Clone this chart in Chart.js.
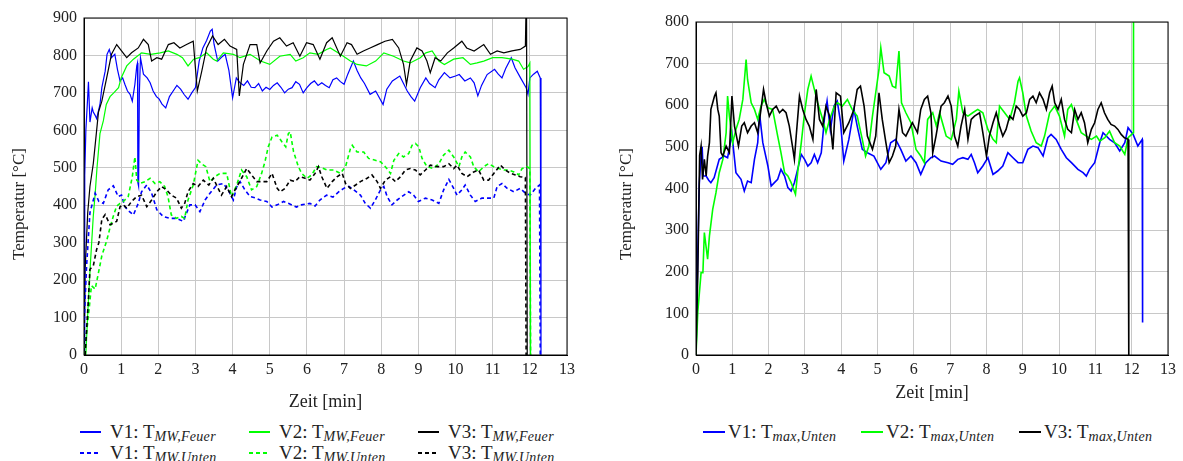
<!DOCTYPE html>
<html>
<head>
<meta charset="utf-8">
<script src="https://cdn.jsdelivr.net/npm/chart.js@4/dist/chart.umd.min.js"></script>
<style>
  body { margin: 0; width: 1183px; height: 461px; background: #fff; position: relative; overflow: hidden;
         font-family: "Liberation Serif", serif; color: #222; }
  #boxLinks { position: absolute; left: 0; top: 0; width: 590px; height: 415px; }
  #boxRechts { position: absolute; left: 600px; top: 0; width: 583px; height: 415px; }
  #boxVorlauf { position: absolute; left: -700px; top: 0; width: 300px; height: 120px; }
  .ytitel { position: absolute; width: 200px; height: 22px; line-height: 22px; text-align: center; font-size: 17px;
            transform: translate(-50%, -50%) rotate(-90deg); white-space: nowrap; }
  .leg { position: absolute; top: 421px; display: grid; }
  #legLinks { left: 80px; grid-template-columns: 169px 169px 169px; }
  #legRechts { left: 703px; grid-template-columns: 158px 158px 158px; }
  .item { display: flex; align-items: center; height: 21px; white-space: nowrap; font-size: 19px; }
  .probe { flex: none; width: 21px; height: 2px; margin-right: 9px; }
  #legRechts .probe { width: 22px; margin-right: 3px; }
  .voll { background: var(--f); }
  .strich { background: repeating-linear-gradient(90deg, var(--f) 0 4px, transparent 4px 7px); }
  sub { font-style: italic; font-size: 14px; vertical-align: -3px; line-height: 0; letter-spacing: 0.3px; }
</style>
</head>
<body>
<div id="boxVorlauf"><canvas id="vorlauf"></canvas></div>
<div id="boxLinks"><canvas id="links"></canvas></div>
<div id="boxRechts"><canvas id="rechts"></canvas></div>
<div class="ytitel" style="left:19px;top:204px">Temperatur [°C]</div>
<div class="ytitel" style="left:626px;top:204px">Temperatur [°C]</div>

<div class="leg" id="legLinks">
  <div class="item"><span class="probe voll" style="--f:#0000ff"></span><span>V1: T<sub>MW,Feuer</sub></span></div>
  <div class="item"><span class="probe voll" style="--f:#00ff00"></span><span>V2: T<sub>MW,Feuer</sub></span></div>
  <div class="item"><span class="probe voll" style="--f:#000"></span><span>V3: T<sub>MW,Feuer</sub></span></div>
  <div class="item"><span class="probe strich" style="--f:#0000ff"></span><span>V1: T<sub>MW,Unten</sub></span></div>
  <div class="item"><span class="probe strich" style="--f:#00ff00"></span><span>V2: T<sub>MW,Unten</sub></span></div>
  <div class="item"><span class="probe strich" style="--f:#000"></span><span>V3: T<sub>MW,Unten</sub></span></div>
</div>
<div class="leg" id="legRechts">
  <div class="item"><span class="probe voll" style="--f:#0000ff"></span><span>V1: T<sub>max,Unten</sub></span></div>
  <div class="item"><span class="probe voll" style="--f:#00ff00"></span><span>V2: T<sub>max,Unten</sub></span></div>
  <div class="item"><span class="probe voll" style="--f:#000"></span><span>V3: T<sub>max,Unten</sub></span></div>
</div>

<script>
// [Zeit in min, Temperatur in °C]
const v1Feuer = [[0,0],[0.02,480],[0.05,600],[0.1,690],[0.12,730],[0.16,622],[0.22,660],[0.25,649],[0.3,640],[0.34,631],[0.43,669],[0.48,714],[0.57,758],[0.62,803],[0.68,816],[0.74,794],[0.83,803],[0.9,763],[0.97,732],[1.04,740],[1.1,723],[1.17,705],[1.24,696],[1.3,678],[1.37,723],[1.42,772],[1.44,780],[1.45,460],[1.47,450],[1.49,700],[1.52,794],[1.6,750],[1.7,740],[1.78,727],[1.86,705],[1.95,690],[2.02,684],[2.1,670],[2.2,660],[2.3,690],[2.4,705],[2.5,720],[2.6,710],[2.7,695],[2.8,683],[2.9,700],[3.0,714],[3.1,785],[3.2,820],[3.3,840],[3.4,865],[3.45,870],[3.5,830],[3.6,785],[3.7,795],[3.8,803],[3.9,760],[4.0,687],[4.1,740],[4.2,727],[4.3,720],[4.4,732],[4.5,715],[4.6,714],[4.7,725],[4.8,705],[4.9,715],[5.0,709],[5.1,720],[5.2,727],[5.3,715],[5.4,700],[5.5,710],[5.6,714],[5.7,730],[5.8,723],[5.9,700],[6.0,714],[6.1,725],[6.2,732],[6.3,720],[6.4,727],[6.5,720],[6.6,714],[6.7,735],[6.8,740],[6.9,730],[7.0,723],[7.1,750],[7.25,785],[7.35,760],[7.45,740],[7.55,725],[7.7,696],[7.85,705],[8.05,669],[8.15,710],[8.3,732],[8.5,745],[8.6,725],[8.7,705],[8.8,690],[8.9,678],[9.05,714],[9.2,740],[9.3,725],[9.45,714],[9.55,735],[9.7,754],[9.85,740],[10.0,745],[10.1,749],[10.25,732],[10.4,740],[10.5,727],[10.6,692],[10.7,720],[10.85,749],[11.05,763],[11.15,750],[11.25,740],[11.35,765],[11.5,794],[11.6,767],[11.75,740],[11.9,714],[11.95,696],[12.0,740],[12.1,750],[12.2,758],[12.28,740],[12.3,0]];
const v2Feuer = [[0.05,0],[0.1,110],[0.17,240],[0.25,371],[0.3,430],[0.35,500],[0.43,591],[0.52,625],[0.6,669],[0.7,690],[0.8,700],[0.93,714],[1.0,740],[1.15,772],[1.33,790],[1.55,807],[1.8,803],[2.05,807],[2.27,812],[2.5,803],[2.65,794],[2.8,772],[2.95,790],[3.1,794],[3.3,807],[3.48,790],[3.57,785],[3.75,807],[4.02,803],[4.2,794],[4.47,803],[4.75,785],[5.0,776],[5.27,798],[5.55,803],[5.7,785],[5.9,794],[6.08,807],[6.3,803],[6.53,816],[6.63,820],[6.9,803],[7.17,785],[7.35,776],[7.6,772],[7.85,785],[8.07,807],[8.33,798],[8.6,785],[8.78,780],[9.05,794],[9.2,807],[9.37,812],[9.55,785],[9.7,776],[9.95,790],[10.2,794],[10.4,776],[10.58,780],[10.76,785],[11.0,794],[11.25,794],[11.52,790],[11.7,785],[11.83,763],[11.95,770],[12.0,780],[12.02,0]];
const v3Feuer = [[0,0],[0.03,228],[0.1,380],[0.16,450],[0.25,511],[0.34,600],[0.39,649],[0.48,678],[0.61,740],[0.74,803],[0.88,829],[1.01,812],[1.15,794],[1.28,807],[1.46,820],[1.6,843],[1.73,829],[1.82,785],[1.96,794],[2.09,790],[2.27,829],[2.42,834],[2.58,820],[2.76,829],[2.94,838],[3.05,705],[3.17,758],[3.3,820],[3.46,852],[3.61,829],[3.78,843],[3.93,825],[4.11,816],[4.18,692],[4.29,776],[4.47,829],[4.65,829],[4.74,780],[4.92,812],[5.1,838],[5.27,847],[5.45,825],[5.63,834],[5.81,798],[5.99,834],[6.17,829],[6.35,790],[6.53,834],[6.68,847],[6.9,798],[7.08,834],[7.2,829],[7.35,803],[7.52,812],[7.7,820],[7.9,829],[8.1,838],[8.3,843],[8.47,820],[8.6,776],[8.68,723],[8.78,785],[8.96,820],[9.1,812],[9.23,785],[9.32,754],[9.45,794],[9.6,785],[9.78,807],[9.95,820],[10.17,838],[10.3,820],[10.5,812],[10.76,829],[10.94,803],[11.12,812],[11.3,807],[11.52,812],[11.74,816],[11.88,825],[11.91,1000],[11.93,0]];
const v1Unten = [[0,0],[0.01,103],[0.07,238],[0.16,380],[0.3,432],[0.4,410],[0.52,405],[0.65,441],[0.79,452],[0.92,423],[1.01,427],[1.1,396],[1.2,385],[1.33,374],[1.46,405],[1.55,436],[1.69,454],[1.82,432],[1.96,388],[2.13,370],[2.31,365],[2.49,365],[2.67,357],[2.76,379],[2.85,401],[2.99,401],[3.12,383],[3.26,414],[3.39,432],[3.57,454],[3.75,458],[3.88,441],[4.02,414],[4.11,449],[4.2,463],[4.33,441],[4.47,423],[4.6,420],[4.74,414],[4.92,410],[5.06,395],[5.2,401],[5.37,410],[5.5,405],[5.72,395],[5.85,401],[6.08,405],[6.22,398],[6.35,414],[6.53,427],[6.7,422],[6.86,436],[6.99,445],[7.13,450],[7.26,441],[7.44,427],[7.57,405],[7.71,392],[7.84,414],[7.98,441],[8.07,450],[8.16,423],[8.29,401],[8.43,414],[8.61,427],[8.74,436],[8.87,427],[9.0,410],[9.19,419],[9.37,414],[9.55,405],[9.68,441],[9.82,469],[9.95,445],[10.04,427],[10.17,441],[10.26,454],[10.4,427],[10.53,410],[10.71,419],[10.89,419],[11.03,419],[11.12,450],[11.25,458],[11.39,445],[11.57,436],[11.74,445],[11.88,432],[12.01,427],[12.15,445],[12.26,454],[12.28,0]];
const v2Unten = [[0,0],[0.12,105],[0.2,185],[0.3,176],[0.39,220],[0.48,265],[0.61,305],[0.7,340],[0.79,371],[0.88,398],[0.97,405],[1.06,410],[1.19,423],[1.3,476],[1.37,529],[1.42,467],[1.51,458],[1.64,463],[1.78,472],[1.91,458],[2.04,463],[2.17,450],[2.26,423],[2.35,374],[2.49,365],[2.62,370],[2.71,365],[2.8,414],[2.94,454],[3.07,520],[3.16,511],[3.28,503],[3.39,463],[3.52,476],[3.66,485],[3.84,485],[3.97,423],[4.11,454],[4.24,494],[4.38,476],[4.51,441],[4.65,450],[4.78,485],[4.87,516],[4.96,556],[5.06,582],[5.2,587],[5.33,569],[5.43,556],[5.5,591],[5.55,596],[5.64,543],[5.77,503],[5.86,485],[6.0,472],[6.13,481],[6.26,503],[6.4,500],[6.55,494],[6.72,494],[6.9,485],[7.04,503],[7.17,551],[7.22,560],[7.35,542],[7.53,542],[7.66,525],[7.84,520],[7.98,516],[8.11,503],[8.25,485],[8.34,520],[8.47,538],[8.6,529],[8.74,538],[8.83,560],[8.92,565],[9.01,556],[9.1,525],[9.23,503],[9.41,498],[9.55,511],[9.68,534],[9.82,547],[9.95,529],[10.09,503],[10.17,529],[10.26,542],[10.4,529],[10.49,503],[10.62,489],[10.76,503],[10.89,511],[11.03,503],[11.16,498],[11.3,494],[11.43,494],[11.57,489],[11.7,481],[11.79,498],[11.92,503],[12.0,498],[12.02,0]];
const v3Unten = [[0.03,0],[0.12,150],[0.16,229],[0.25,238],[0.34,282],[0.4,300],[0.48,362],[0.57,375],[0.7,348],[0.8,352],[0.88,357],[0.97,396],[1.06,401],[1.15,392],[1.28,410],[1.42,423],[1.55,427],[1.69,396],[1.82,414],[1.96,436],[2.09,450],[2.22,441],[2.35,427],[2.49,419],[2.62,392],[2.71,405],[2.8,436],[2.94,458],[3.07,450],[3.21,467],[3.36,454],[3.48,472],[3.61,445],[3.7,427],[3.84,450],[3.97,423],[4.11,449],[4.24,472],[4.38,498],[4.51,481],[4.65,463],[4.78,463],[4.92,463],[5.06,485],[5.2,445],[5.28,436],[5.41,445],[5.55,467],[5.68,463],[5.81,476],[5.95,472],[6.08,467],[6.22,485],[6.31,503],[6.4,476],[6.54,445],[6.68,463],[6.81,476],[6.95,485],[7.04,458],[7.17,445],[7.31,454],[7.44,463],[7.62,472],[7.75,481],[7.89,463],[7.98,445],[8.11,467],[8.25,476],[8.38,463],[8.52,476],[8.65,494],[8.78,498],[8.92,494],[9.05,481],[9.19,494],[9.32,507],[9.5,503],[9.68,503],[9.82,511],[9.95,498],[10.04,507],[10.17,485],[10.31,476],[10.49,489],[10.62,494],[10.76,467],[10.89,467],[11.03,485],[11.21,507],[11.34,494],[11.48,485],[11.61,481],[11.74,476],[11.88,474],[11.9,0]];

const v1Max = [[0,0],[0.05,250],[0.09,410],[0.14,480],[0.17,500],[0.2,430],[0.28,430],[0.35,420],[0.41,414],[0.5,426],[0.64,470],[0.78,478],[0.87,474],[0.99,530],[1.1,438],[1.24,422],[1.33,394],[1.42,418],[1.52,414],[1.61,470],[1.7,510],[1.75,580],[1.84,510],[1.98,454],[2.07,406],[2.16,414],[2.25,422],[2.34,446],[2.44,430],[2.53,402],[2.62,394],[2.71,414],[2.8,446],[2.9,482],[2.99,470],[3.08,454],[3.17,462],[3.26,482],[3.35,462],[3.45,486],[3.54,570],[3.61,610],[3.7,540],[3.8,598],[3.89,610],[3.98,560],[4.07,466],[4.21,518],[4.35,590],[4.44,550],[4.58,494],[4.72,486],[4.9,478],[5.09,446],[5.23,462],[5.36,510],[5.5,518],[5.64,494],[5.78,466],[5.92,478],[6.06,462],[6.19,434],[6.33,462],[6.47,474],[6.57,478],[6.75,466],[6.94,462],[7.07,458],[7.21,470],[7.35,474],[7.49,470],[7.58,482],[7.67,462],[7.76,438],[7.9,454],[8.04,474],[8.18,434],[8.31,442],[8.45,454],[8.59,486],[8.73,474],[8.87,462],[9.0,462],[9.14,494],[9.28,502],[9.42,498],[9.56,478],[9.69,522],[9.78,530],[9.92,518],[10.06,494],[10.2,474],[10.34,462],[10.52,446],[10.66,438],[10.75,430],[10.84,446],[10.98,462],[11.12,510],[11.21,534],[11.3,526],[11.39,518],[11.53,510],[11.67,490],[11.81,510],[11.9,546],[12.04,530],[12.17,502],[12.29,518],[12.3,78]];
const v2Max = [[0,0],[0.05,104],[0.14,198],[0.19,198],[0.23,294],[0.32,230],[0.37,286],[0.46,350],[0.55,390],[0.64,438],[0.74,470],[0.83,534],[0.87,622],[0.92,574],[1.01,510],[1.1,542],[1.19,566],[1.29,614],[1.38,710],[1.42,662],[1.52,606],[1.61,590],[1.7,566],[1.79,598],[1.88,614],[1.98,594],[2.11,590],[2.25,526],[2.34,486],[2.44,438],[2.53,430],[2.62,414],[2.74,386],[2.8,438],[2.9,510],[2.99,582],[3.08,638],[3.17,670],[3.26,638],[3.35,606],[3.49,566],[3.58,534],[3.68,566],[3.81,598],[3.9,606],[4.03,598],[4.17,614],[4.3,590],[4.44,574],[4.58,518],[4.67,478],[4.76,502],[4.86,574],[4.95,630],[5.04,686],[5.09,738],[5.18,678],[5.32,670],[5.41,646],[5.5,642],[5.59,730],[5.66,606],[5.78,582],[5.92,558],[6.06,494],[6.19,478],[6.29,462],[6.38,566],[6.52,582],[6.62,550],[6.71,582],[6.89,526],[7.03,518],[7.17,566],[7.24,634],[7.35,582],[7.49,574],[7.62,582],[7.76,590],[7.9,582],[8.04,542],[8.18,518],[8.27,510],[8.36,598],[8.5,582],[8.64,566],[8.77,606],[8.87,658],[8.91,666],[9.0,630],[9.1,574],[9.23,538],[9.37,510],[9.51,502],[9.6,526],[9.74,582],[9.88,598],[10.01,574],[10.15,526],[10.24,590],[10.34,602],[10.47,566],[10.61,534],[10.75,526],[10.89,518],[11.03,526],[11.12,514],[11.26,522],[11.39,538],[11.53,510],[11.67,502],[11.81,482],[11.9,522],[12.0,530],[12.04,534],[12.05,1000]];
const v3Max = [[0,0],[0.05,200],[0.1,480],[0.14,502],[0.18,422],[0.23,470],[0.28,430],[0.32,478],[0.37,510],[0.41,590],[0.46,606],[0.51,622],[0.55,630],[0.6,590],[0.64,574],[0.69,486],[0.74,478],[0.83,502],[0.92,486],[0.99,622],[1.06,550],[1.17,502],[1.26,550],[1.33,558],[1.42,534],[1.52,550],[1.61,558],[1.7,534],[1.79,590],[1.86,638],[1.93,606],[2.02,574],[2.11,590],[2.21,598],[2.3,582],[2.39,590],[2.48,582],[2.57,550],[2.67,494],[2.71,470],[2.76,526],[2.85,622],[2.94,590],[3.03,566],[3.12,550],[3.22,518],[3.31,638],[3.4,566],[3.49,550],[3.58,598],[3.68,574],[3.77,494],[3.86,630],[3.98,622],[4.07,534],[4.21,558],[4.35,590],[4.44,638],[4.53,646],[4.63,598],[4.72,526],[4.86,494],[4.95,526],[5.04,630],[5.13,566],[5.23,510],[5.32,462],[5.41,478],[5.5,502],[5.59,590],[5.69,534],[5.78,526],[5.87,542],[5.96,558],[6.1,534],[6.19,590],[6.29,614],[6.38,622],[6.47,582],[6.52,486],[6.61,526],[6.75,598],[6.84,606],[6.94,622],[7.03,598],[7.12,526],[7.21,502],[7.3,550],[7.4,590],[7.49,518],[7.58,566],[7.67,574],[7.81,582],[7.9,534],[8.0,478],[8.08,526],[8.18,558],[8.27,582],[8.36,550],[8.45,526],[8.54,542],[8.64,574],[8.73,566],[8.82,598],[8.91,590],[9.0,574],[9.1,582],[9.19,614],[9.28,622],[9.37,606],[9.46,630],[9.56,614],[9.65,590],[9.74,630],[9.81,646],[9.88,606],[9.97,590],[10.06,614],[10.15,566],[10.24,542],[10.34,534],[10.43,590],[10.52,566],[10.61,582],[10.7,558],[10.79,510],[10.89,542],[10.98,558],[11.07,590],[11.16,606],[11.25,582],[11.34,566],[11.43,554],[11.53,550],[11.62,542],[11.71,530],[11.8,522],[11.9,518],[11.92,0]];

const zeitTicks = [0, 1, 2, 3, 4, 5, 6, 7, 8, 9, 10, 11, 12, 13];
const tempTicksLinks = [0, 100, 200, 300, 400, 500, 600, 700, 800, 900];
const tempTicksRechts = [0, 100, 200, 300, 400, 500, 600, 700, 800];

const schrift = "'Liberation Serif', serif";
Chart.defaults.font.family = schrift;
Chart.defaults.font.size = 16;
const tickFont = { family: schrift, size: 16 };
const titelFont = { family: schrift, size: 18 };
const gitter = '#c8c8c8';

// Rahmen oben und rechts wie bei pgfplots
const rahmen = {
  id: 'rahmen',
  afterDraw(chart) {
    const { ctx, chartArea: a } = chart;
    ctx.save();
    ctx.strokeStyle = '#000';
    ctx.lineWidth = 1;
    ctx.strokeRect(a.left, a.top, a.right - a.left, a.bottom - a.top);
    ctx.restore();
  }
};

function zeichne(id, serien, yTicks, r) {
  return new Chart(document.getElementById(id), {
    type: 'line',
    data: {
      datasets: serien.map((s, i) => ({
        label: s.name,
        data: s.daten.map(([x, y]) => ({ x, y })),
        borderColor: s.farbe,
        borderWidth: s.breite,
        borderDash: s.strich || [],
        pointRadius: 0,
        fill: false,
        tension: 0,
        order: serien.length - i
      }))
    },
    options: {
      responsive: true,
      maintainAspectRatio: false,
      animation: false,
      layout: { padding: { top: r.oben, right: r.rechts, left: 0, bottom: 0 } },
      plugins: { legend: { display: false }, tooltip: { enabled: false } },
      scales: {
        x: {
          type: 'linear', min: 0, max: 13,
          afterBuildTicks: s => { s.ticks = zeitTicks.map(v => ({ value: v })); },
          afterFit: s => { s.height = 60; },
          grid: { color: gitter, drawTicks: false },
          border: { color: '#000' },
          ticks: { font: tickFont, color: '#222', padding: 5, maxRotation: 0 },
          title: { display: true, text: 'Zeit [min]', font: titelFont, color: '#222',
                   padding: { top: 0, bottom: r.titelUnten } }
        },
        y: {
          min: 0, max: yTicks[yTicks.length - 1],
          afterBuildTicks: s => { s.ticks = yTicks.map(v => ({ value: v })); },
          afterFit: s => { s.width = r.links; },
          grid: { color: gitter, drawTicks: false },
          border: { color: '#000' },
          ticks: { font: tickFont, color: '#222', padding: 7 }
        }
      }
    },
    plugins: [rahmen]
  });
}

// unsichtbarer Vorlauf-Chart ausserhalb des Bildes: der erste Chart zeichnet sonst mit Ersatzschrift
const vorlauf = zeichne('vorlauf', [{ name: 'vorlauf', daten: [[0, 0], [13, 900]], farbe: '#fff', breite: 1 }],
  tempTicksLinks, { oben: 5, rechts: 5, links: 40, titelUnten: 0 });

// rechts zuerst, dann links
const chartRechts = zeichne('rechts', [
  { name: 'V1: T max,Unten', daten: v1Max, farbe: '#0000ff', breite: 1.6 },
  { name: 'V2: T max,Unten', daten: v2Max, farbe: '#00ff00', breite: 1.6 },
  { name: 'V3: T max,Unten', daten: v3Max, farbe: '#000000', breite: 1.6 }
], tempTicksRechts, { oben: 22, rechts: 15, links: 96, titelUnten: 11 });

const chartLinks = zeichne('links', [
  { name: 'V1: T MW,Feuer', daten: v1Feuer, farbe: '#0000ff', breite: 1.2 },
  { name: 'V2: T MW,Feuer', daten: v2Feuer, farbe: '#00ff00', breite: 1.2 },
  { name: 'V3: T MW,Feuer', daten: v3Feuer, farbe: '#000000', breite: 1.2 },
  { name: 'V1: T MW,Unten', daten: v1Unten, farbe: '#0000ff', breite: 1.6, strich: [4, 3] },
  { name: 'V2: T MW,Unten', daten: v2Unten, farbe: '#00ff00', breite: 1.6, strich: [4, 3] },
  { name: 'V3: T MW,Unten', daten: v3Unten, farbe: '#000000', breite: 1.6, strich: [4, 3] }
], tempTicksLinks, { oben: 18, rechts: 23, links: 84, titelUnten: 2 });

const charts = [chartLinks, chartRechts];
const neuZeichnen = () => charts.forEach(c => c.update());
document.fonts.load("16px 'Liberation Serif'").then(neuZeichnen);
setTimeout(neuZeichnen, 150);
</script>
</body>
</html>
